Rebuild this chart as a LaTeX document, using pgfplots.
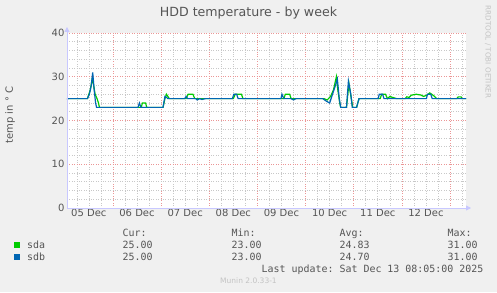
\documentclass[border=0pt]{standalone}
\usepackage{pgfplots}
\pgfplotsset{compat=1.18}
\usepackage{fontspec}
\setmainfont{DejaVu Sans}
\setmonofont{DejaVu Sans Mono}
\usetikzlibrary{arrows.meta}
\definecolor{bg}{RGB}{240,240,240}
\definecolor{sdacol}{RGB}{0,204,0}
\definecolor{sdbcol}{RGB}{0,102,179}
\definecolor{txt}{RGB}{85,85,85}
\definecolor{majgrid}{RGB}{235,150,150}
\definecolor{mingrid}{RGB}{200,200,200}
\definecolor{axisc}{RGB}{200,200,255}
\definecolor{faint}{RGB}{195,195,195}
\begin{document}
\begin{tikzpicture}[x=1pt,y=1pt]
\useasboundingbox (0,0) rectangle (497,292);
\fill[bg] (0,0) rectangle (497,292);
\begin{axis}[
  at={(67pt,84pt)}, anchor=south west,
  scale only axis, width=399pt, height=175pt,
  xmin=0.046, xmax=8.332, ymin=0, ymax=40,
  axis background/.style={fill=white},
  axis line style={draw=none},
  tick style={draw=none},
  xtick={1,2,3,4,5,6,7,8}, xticklabels={},
  minor xtick={0.25,0.5,0.75,1.25,1.5,1.75,2.25,2.5,2.75,3.25,3.5,3.75,4.25,4.5,4.75,5.25,5.5,5.75,6.25,6.5,6.75,7.25,7.5,7.75,8.25},
  extra x ticks={0.5,1.5,2.5,3.5,4.5,5.5,6.5,7.5},
  extra x tick labels={05 Dec,06 Dec,07 Dec,08 Dec,09 Dec,10 Dec,11 Dec,12 Dec},
  extra x tick style={grid=none, tick style={draw=none}},
  ytick={0,10,20,30,40}, minor y tick num=4,
  grid=both,
  major grid style={majgrid, dotted, line width=0.6pt},
  minor grid style={mingrid, dotted, line width=0.6pt},
  ticklabel style={font=\fontsize{10}{12}\selectfont, text=txt},
  /pgf/number format/assume math mode=true,
  xticklabel style={yshift=2pt},
  yticklabel style={xshift=1pt},
  clip=false,
]
\addplot[sdacol, line width=1.2pt] coordinates {
(0.046,25) (0.47,25) (0.50,26) (0.53,27) (0.57,29.5) (0.60,28) (0.63,26) (0.67,25) (0.70,24) (0.72,23)
(1.59,23) (1.61,24) (1.68,24) (1.70,23) (2.04,23) (2.08,25) (2.11,26) (2.14,25.5) (2.17,25)
(2.52,25) (2.56,26) (2.66,26) (2.70,25) (3.50,25) (3.54,26) (3.67,26) (3.70,25)
(4.55,25) (4.58,26) (4.67,26) (4.70,25) (5.38,25) (5.45,24.7) (5.52,25.5) (5.58,27) (5.64,30)
(5.67,27) (5.71,24) (5.73,23) (5.85,23) (5.90,28.5) (5.95,25) (5.98,23) (6.06,23) (6.11,25)
(6.55,25) (6.58,26) (6.66,26) (6.70,25) (6.75,25.5) (6.80,25.3) (6.89,25) (7.07,25) (7.10,25.4)
(7.15,25.3) (7.20,25.8) (7.30,26) (7.40,25.8) (7.45,25.5) (7.52,25.8) (7.58,26.3) (7.62,26)
(7.68,25.5) (7.72,25) (8.14,25) (8.17,25.4) (8.23,25.4) (8.25,25) (8.332,25)
};
\addplot[sdbcol, line width=1.2pt] coordinates {
(0.046,24.8) (0.07,25) (0.47,25) (0.51,26) (0.55,28) (0.58,31) (0.61,27) (0.64,24) (0.66,23)
(1.52,23) (1.55,24) (1.58,23) (2.04,23) (2.08,25.5) (2.11,25.3) (2.14,25) (2.49,25) (2.52,25.5)
(2.55,25) (2.72,25) (2.75,24.7) (2.80,25) (2.85,24.8) (2.92,25) (3.48,25) (3.51,26) (3.57,26)
(3.60,25) (4.49,25) (4.51,26) (4.55,25) (4.70,25) (4.75,24.7) (4.80,25) (5.36,25) (5.42,24.5)
(5.50,24) (5.56,26) (5.62,28) (5.66,29.5) (5.70,25) (5.73,23) (5.85,23) (5.89,29) (5.94,26)
(5.97,23) (6.06,23) (6.11,25) (6.51,25) (6.53,26) (6.60,26) (6.63,25) (7.51,25) (7.53,26)
(7.60,26) (7.63,25) (8.332,25)
};
\draw[axisc, line width=0.8pt, -{Triangle[length=5pt,width=5pt]}] (rel axis cs:0,0) -- ([xshift=5pt]rel axis cs:1,0);
\draw[axisc, line width=0.8pt, -{Triangle[length=5pt,width=5pt]}] (rel axis cs:0,0) -- ([yshift=6pt]rel axis cs:0,1);
\end{axis}
\node[text=txt, font=\fontsize{12.6}{14}\selectfont] at (248.5,279) {HDD temperature - by week};
\node[text=txt, rotate=90, font=\fontsize{10}{12}\selectfont] at (10,177) {temp in ° C};
\node[text=faint, rotate=-90, font=\fontsize{7.2}{9}\selectfont] at (488,240) {RRDTOOL / TOBI OETIKER};
\fill[sdacol] (14,43.7) rectangle (20,49.7);
\fill[sdbcol] (14,31.7) rectangle (20,37.7);
\begin{scope}[every node/.style={text=txt, font=\ttfamily\fontsize{9.95}{12}\selectfont, anchor=base west, inner sep=0pt}]
\node at (27,43.5) {sda};
\node at (27,31.5) {sdb};
\node at (122.5,55.5) {Cur:};
\node at (122.5,43.5) {25.00};
\node at (122.5,31.5) {25.00};
\node at (231.5,55.5) {Min:};
\node at (231.5,43.5) {23.00};
\node at (231.5,31.5) {23.00};
\node at (339.5,55.5) {Avg:};
\node at (339.5,43.5) {24.83};
\node at (339.5,31.5) {24.70};
\node at (447.5,55.5) {Max:};
\node at (447.5,43.5) {31.00};
\node at (447.5,31.5) {31.00};
\node at (261.5,19.5) {Last update: Sat Dec 13 08:05:00 2025};
\end{scope}
\node[text=faint, font=\fontsize{7.5}{9}\selectfont] at (248.5,11) {Munin 2.0.33-1};
\end{tikzpicture}
\end{document}
